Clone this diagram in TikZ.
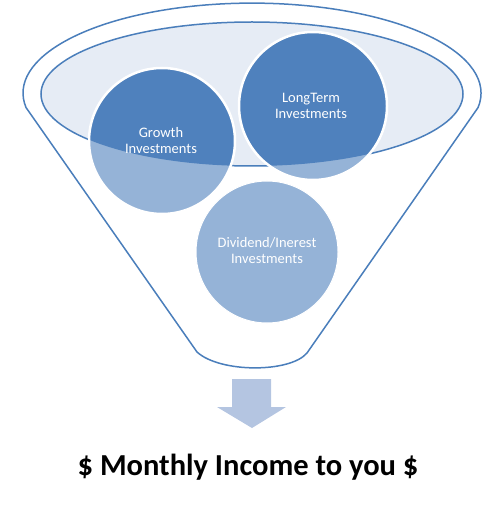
\documentclass[tikz,border=0pt]{standalone}
\usepackage{fontspec}
\setmainfont{Carlito}
\definecolor{funnelblue}{HTML}{4A7EBB}
\definecolor{darkcirc}{HTML}{4F81BD}
\definecolor{lightcirc}{HTML}{95B3D7}
\definecolor{rimfill}{HTML}{E6ECF5}
\definecolor{arrowfill}{HTML}{B4C5E1}
\tikzset{
  outline/.style={draw=funnelblue, line width=1.5pt},
  circtext/.style={text=white, align=center, font=\fontsize{14.5}{16}\selectfont, inner sep=0pt},
  halo/.style={draw=white, line width=2.5pt}
}
\begin{document}
\begin{tikzpicture}[x=1pt, y=-1pt]
\useasboundingbox (0,0) rectangle (503,521);
% funnel body
\coordinate (fl) at (26,107.5);
\coordinate (fbl) at (197,352);
\coordinate (fbr) at (307,353);
\path[outline, fill=white] (fl) arc[start angle=189.2, end angle=-9.2, x radius=229, y radius=-90]
  -- (fbr) .. controls (290,373) and (220,373) .. (fbl) -- cycle;
% inner rim
\path[outline, fill=rimfill] (252,94) ellipse[x radius=211, y radius=72];
% circles, light fill
\fill[lightcirc] (162,141) circle[radius=73];
\fill[lightcirc] (313,106) circle[radius=74];
\fill[lightcirc] (267,252) circle[radius=71];
\begin{scope}
  \clip (252,94) ellipse[x radius=211, y radius=72];
  \fill[darkcirc] (162,141) circle[radius=73];
  \fill[darkcirc] (313,106) circle[radius=74];
\end{scope}
\draw[halo] (162,141) circle[radius=73];
\draw[halo] (313,106) circle[radius=74];
\draw[white, line width=1pt] (267,252) circle[radius=71];
% texts
\node[circtext] (growth) at (161,141) {Growth\\Investments};
\node[circtext] (longterm) at (311,106) {LongTerm\\Investments};
\node[circtext] (dividend) at (267,251) {Dividend/Inerest\\Investments};
% arrow
\fill[arrowfill] (232,379) -- (271,379) -- (271,407) -- (286,407) -- (252,428) -- (217,407) -- (232,407) -- cycle;
% caption
\node[font=\bfseries\fontsize{30.5}{34}\selectfont, inner sep=0pt] (income) at (248,467) {\$ Monthly Income to you \$};
\end{tikzpicture}
\end{document}
